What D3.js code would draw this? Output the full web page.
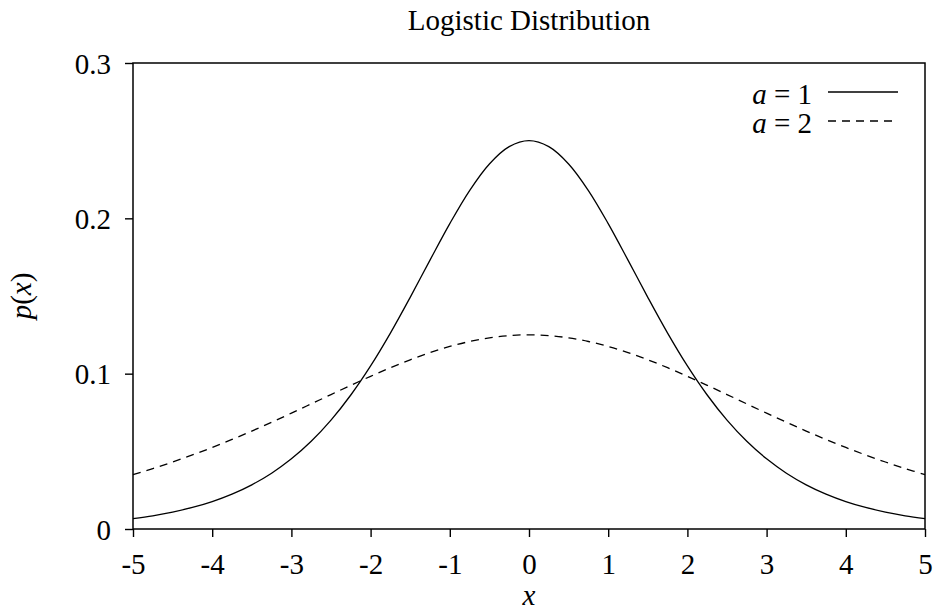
<!DOCTYPE html>
<html><head><meta charset="utf-8">
<script src="https://cdn.jsdelivr.net/npm/d3@7"></script>
<style>
body{margin:0;background:#fff;}
svg text{font-family:"Liberation Serif","Times New Roman",serif;fill:#000;}
</style></head>
<body>
<svg id="c" width="937" height="613"></svg>
<script>
const xs = [-5,-4.75,-4.5,-4.25,-4,-3.75,-3.5,-3.25,-3,-2.75,-2.5,-2.25,-2,-1.75,-1.5,-1.25,-1,-0.75,-0.5,-0.25,0,0.25,0.5,0.75,1,1.25,1.5,1.75,2,2.25,2.5,2.75,3,3.25,3.5,3.75,4,4.25,4.5,4.75,5];
// a = 1 (x >= 0 half, symmetric)
const halfA1 = [0.25,0.246134,0.235004,0.217895,0.196612,0.173106,0.149146,0.126129,0.104994,0.086263,0.070104,0.056476,0.045177,0.035934,0.028453,0.022449,0.017663,0.013866,0.010866,0.008504,0.006648];
// a = 2
const halfA2 = [0.125,0.124513,0.123067,0.120708,0.117502,0.113554,0.108947,0.103837,0.098306,0.092509,0.086553,0.080543,0.074573,0.068726,0.063065,0.057643,0.052497,0.047653,0.043131,0.038928,0.035052];
const seriesA1 = halfA1.slice(1).reverse().concat(halfA1);
const seriesA2 = halfA2.slice(1).reverse().concat(halfA2);
const xTicks = [-5,-4,-3,-2,-1,0,1,2,3,4,5];
const yTicks = [0,0.1,0.2,0.3];
const legendLabels = ["1","2"];

const svg = d3.select("#c");
const L=133, R=925, T=63, B=529;
const x = d3.scaleLinear().domain([-5,5]).range([L,R]);
const y = d3.scaleLinear().domain([0,0.3]).range([B,T]);
const FS = 29;

svg.append("text").attr("x",(L+R)/2).attr("y",30).attr("text-anchor","middle")
  .style("font-size",FS+"px").text("Logistic Distribution");

const xa = svg.append("g").attr("transform",`translate(0,${B})`)
  .call(d3.axisBottom(x).tickValues(xTicks).tickSize(8).tickPadding(6).tickFormat(d=>String(d)));
xa.select(".domain").remove();
xa.selectAll("line").attr("stroke","#000").attr("stroke-width",1.4);
xa.selectAll("text").style("font-size",FS+"px").attr("y",null).attr("dy",null)
  .attr("transform","translate(0,45)").attr("font-family",null);

const ya = svg.append("g").attr("transform",`translate(${L},0)`)
  .call(d3.axisLeft(y).tickValues(yTicks).tickSize(8).tickFormat(d=>d===0?"0":d3.format(".1f")(d)));
ya.select(".domain").remove();
ya.selectAll("line").attr("stroke","#000").attr("stroke-width",1.4);
ya.selectAll("text").style("font-size",FS+"px").attr("x",-22).attr("dy",null).attr("y",10).attr("font-family",null);

svg.append("rect").attr("x",L).attr("y",T).attr("width",R-L).attr("height",B-T)
  .attr("fill","none").attr("stroke","#000").attr("stroke-width",1.5);

const line = d3.line().x((d,i)=>x(xs[i])).y(d=>y(d)).curve(d3.curveCatmullRom);
svg.append("path").datum(seriesA1).attr("d",line).attr("fill","none").attr("stroke","#000").attr("stroke-width",1.3);
svg.append("path").datum(seriesA2).attr("d",line).attr("fill","none").attr("stroke","#000").attr("stroke-width",1.3).attr("stroke-dasharray","8,6");

svg.append("text").attr("x",529).attr("y",605).attr("text-anchor","middle")
  .style("font-size",FS+"px").style("font-style","italic").text("x");

const yl = svg.append("text").attr("transform","translate(31,296) rotate(-90)").attr("text-anchor","middle").style("font-size",FS+"px");
yl.append("tspan").style("font-style","italic").text("p");
yl.append("tspan").text("(");
yl.append("tspan").style("font-style","italic").text("x");
yl.append("tspan").text(")");

const lg = svg.append("g");
legendLabels.forEach((lab,i)=>{
  const yy = 92 + i*29;
  const t = lg.append("text").attr("x",812).attr("y",yy+12).attr("text-anchor","end").style("font-size",FS+"px");
  t.append("tspan").style("font-style","italic").text("a");
  t.append("tspan").text(" = "+lab);
  lg.append("line").attr("x1",828).attr("x2",898).attr("y1",yy).attr("y2",yy)
    .attr("stroke","#000").attr("stroke-width",1.3).attr("stroke-dasharray",i===1?"8,6":null);
});
</script>
</body></html>
